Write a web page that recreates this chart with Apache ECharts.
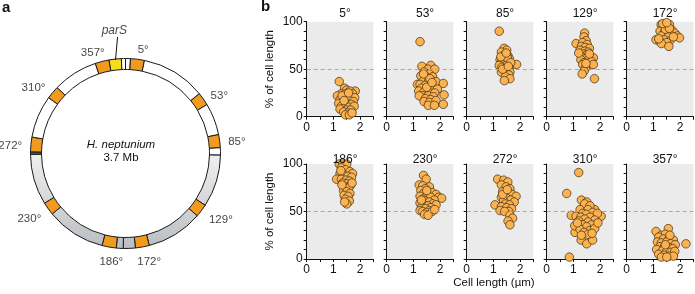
<!DOCTYPE html>
<html><head><meta charset="utf-8">
<script src="https://cdn.jsdelivr.net/npm/echarts@6/dist/echarts.min.js"></script>
<style>html,body{margin:0;padding:0;background:#fff}#c{width:695px;height:294px}</style>
</head><body><div id="c"></div>
<script>
// ---------- panel a: genome ring ----------
const ringBreaks = [0, 3, 11.5, 51, 59, 78.5, 86.5, 91, 123, 131, 165.5, 174, 181.4, 185.6, 194.3, 230.5, 238.5, 269.5, 271, 280, 306, 314, 341.5, 350, 357.5, 360];
const ringKinds  = ['white','orange','white','orange','white','orange','white','gray','orange','gray','orange','gray','gray','orange','gray','orange','gray','dark','orange','white','orange','white','orange','yellow','white'];
const ringLabels = ['357°','5°','53°','85°','129°','172°','186°','230°','272°','310°'];
const ringLabelR = [106, 105, 110, 112, 116, 111, 109, 116, 115.5, 113];
const ringLabelA = [342, 9.7, 58.5, 84, 124.7, 167.7, 187.5, 236, 273.7, 305.5];
const parSLine = [[94, 353.9], [116.8, 356.1]];
const parSLabel = [123.5, 354.8];

// ---------- panel b: scatter data [cell length (µm), % of cell length] ----------
const panelTitles = ['5°','53°','85°','129°','172°','186°','230°','272°','310°','357°'];
const p5 = [[1.22,37],[1.42,30],[1.5,28],[1.82,27],[1.62,27],[1.28,24],[1.45,24],[1.72,24],[1.15,22],[1.55,22],[1.35,20],[1.65,20],[1.8,20],[1.25,18],[1.48,18],[1.6,17],[1.75,16],[1.35,15],[1.2,14],[1.5,13],[1.68,13],[1.3,11],[1.42,10],[1.58,10],[1.78,11],[1.25,8],[1.5,7],[1.65,7],[1.38,5],[1.55,4],[1.45,2],[1.6,2],[1.7,4],[1.33,22],[1.57,25],[1.4,17]];
const p53 = [[1.25,79],[1.32,53],[1.65,54],[1.55,50],[1.8,50],[1.4,47],[1.6,45],[1.28,43],[1.48,42],[1.72,42],[1.15,34],[1.35,37],[1.58,38],[1.85,37],[2.12,35],[1.25,34],[1.45,33],[1.65,33],[1.3,30],[1.5,29],[1.7,30],[1.9,29],[1.2,27],[1.4,26],[1.6,25],[1.8,25],[1.35,22],[1.55,22],[1.75,21],[2.15,23],[1.22,22],[1.45,19],[1.65,18],[1.4,16],[1.6,15],[1.85,17],[1.56,12],[1.79,12],[2.12,13],[1.5,31],[1.62,40],[1.38,45],[1.7,36]];
const p85 = [[1.22,90],[1.4,72],[1.5,70],[1.3,68],[1.45,66],[1.55,64],[1.35,62],[1.6,61],[1.25,60],[1.42,60],[1.5,58],[1.3,57],[1.58,56],[1.87,55],[1.38,55],[1.48,54],[1.22,54],[1.6,52],[1.32,52],[1.45,51],[1.55,49],[1.4,48],[1.62,47],[1.3,47],[1.5,45],[1.58,44],[1.45,42],[1.62,40],[1.41,38],[1.35,50],[1.52,62],[1.65,57],[1.28,63],[1.48,67],[1.56,53]];
const p129 = [[1.42,88],[1.4,84],[1.48,80],[1.1,77],[1.35,78],[1.52,76],[1.3,74],[1.45,73],[1.6,72],[1.25,70],[1.42,69],[1.55,68],[1.38,66],[1.5,65],[1.32,63],[1.62,63],[1.45,61],[1.75,62],[1.28,60],[1.52,59],[1.4,57],[1.68,58],[1.35,55],[1.5,53],[1.45,51],[1.75,55],[1.4,48],[1.33,45],[1.79,40],[1.6,66],[1.2,67],[1.47,56]];
const p172 = [[1.29,97],[1.6,97],[1.45,96],[1.35,93],[1.52,92],[1.7,91],[1.25,90],[1.42,89],[1.58,88],[1.8,88],[1.48,86],[1.65,86],[1.9,85],[1.98,83],[1.3,85],[1.55,84],[1.1,81],[1.4,81],[1.62,80],[1.25,79],[1.5,78],[1.3,77],[1.58,74],[1.45,92],[1.6,93],[1.35,98],[1.5,99],[1.75,84],[1.2,82]];
const p186 = [[1.22,100],[1.35,100],[1.5,100],[1.3,96],[1.45,94],[1.62,92],[1.72,90],[1.25,90],[1.4,88],[1.55,87],[1.68,86],[1.12,84],[1.3,84],[1.47,83],[1.6,82],[1.35,80],[1.52,79],[1.65,78],[1.42,76],[1.58,75],[1.38,72],[1.5,71],[1.62,69],[1.4,67],[1.55,66],[1.45,63],[1.6,61],[1.5,58],[1.42,60],[1.32,78],[1.7,80],[1.28,93]];
const p230 = [[1.38,88],[1.48,84],[1.22,78],[1.35,77],[1.6,76],[1.45,74],[1.28,72],[1.55,70],[1.7,70],[1.38,69],[1.85,68],[1.25,66],[1.5,66],[1.65,65],[1.95,65],[2.06,64],[1.35,63],[1.78,62],[1.45,61],[1.6,60],[1.25,59],[1.72,58],[1.4,57],[1.55,56],[1.3,54],[1.85,57],[1.65,54],[1.45,53],[1.25,51],[1.6,51],[1.35,50],[1.5,49],[1.7,50],[1.42,47],[1.55,46],[1.8,52],[1.3,62],[1.5,72]];
const p272 = [[1.16,84],[1.39,83],[1.54,81],[1.3,78],[1.48,76],[1.62,74],[1.35,71],[1.55,70],[1.42,67],[1.7,68],[1.85,66],[1.3,65],[1.5,64],[1.65,62],[1.38,61],[1.78,60],[1.06,57],[1.45,58],[1.6,57],[1.3,55],[1.5,54],[1.68,53],[1.25,51],[1.58,50],[1.42,50],[1.62,46],[1.72,43],[1.55,40],[1.62,36],[1.35,68],[1.52,73]];
const p310 = [[1.2,91],[0.75,69],[0.85,2],[0.92,46],[1.06,28],[1.29,20],[1.5,16],[1.72,20],[2.04,45],[1.8,52],[1.3,62],[1.5,60],[1.42,58],[1.62,56],[1.25,52],[1.55,52],[1.72,49],[1.35,48],[1.48,47],[1.9,48],[1.1,45],[1.28,44],[1.62,44],[1.42,42],[1.8,41],[1.2,40],[1.55,39],[1.35,36],[1.68,36],[1.05,35],[1.5,34],[1.25,31],[1.62,30],[1.4,28],[1.8,32],[1.55,26],[1.7,27],[1.3,25],[1.92,38],[1.15,38]];
const p357 = [[1.56,32],[1.1,29],[2.22,16],[1.3,25],[1.45,26],[1.2,23],[1.38,21],[1.6,22],[1.75,20],[1.15,18],[1.3,17],[1.5,18],[1.65,16],[1.82,15],[1.25,13],[1.42,13],[1.58,12],[1.72,11],[1.12,10],[1.35,9],[1.5,8],[1.65,7],[1.8,8],[1.2,5],[1.4,4],[1.58,3],[1.75,3],[1.3,2],[1.5,2],[1.45,15],[1.62,25]];
const panels = [p5,p53,p85,p129,p172,p186,p230,p272,p310,p357];
const xTicks = [0, 1, 2];
const yTicks = [0, 50, 100];

const FONT = "'Liberation Sans', Arial, Helvetica, sans-serif";
const TXT = '#111';
const chart = echarts.init(document.getElementById('c'), null, {renderer: 'canvas'});

const grayGrad = new echarts.graphic.LinearGradient(0, 148, 0, 250, [
  {offset: 0, color: '#f3f3f4'}, {offset: 1, color: '#b9bcc1'}], true);
grayGrad.global = true;
const kindColor = {white: '#ffffff', orange: '#f29a1e', yellow: '#f4de1e', dark: '#5a5a5a', gray: grayGrad};

const ringData = ringKinds.map((k, i) => ({
  value: ringBreaks[i + 1] - ringBreaks[i],
  itemStyle: {color: kindColor[k]}
}));

const grids = [], xAxes = [], yAxes = [], series = [], titles = [];
panels.forEach((d, i) => {
  const col = i % 5, row = Math.floor(i / 5);
  const left = 306.7 + 80 * col, top = row ? 164 : 21.7, w = 66.7, h = 95;
  grids.push({left, top, width: w, height: h, show: true, backgroundColor: '#ebebeb', borderWidth: 0, outerBoundsMode: 'none'});
  xAxes.push({gridIndex: i, type: 'value', min: 0, max: 2.5, interval: 0.5,
    axisLine: {lineStyle: {color: '#111', width: 1}},
    axisTick: {show: true, length: 3, lineStyle: {color: '#111'}},
    splitLine: {show: false},
    axisLabel: {fontSize: 12, color: TXT, fontFamily: FONT, margin: 5,
      formatter: v => xTicks.includes(v) ? String(v) : ''}
  });
  yAxes.push({gridIndex: i, type: 'value', min: 0, max: 100, interval: 10,
    axisLine: {show: true, lineStyle: {color: '#111', width: 1}},
    axisTick: {show: true, length: 3, lineStyle: {color: '#111'}},
    splitLine: {show: false},
    axisLabel: {show: col === 0, fontSize: 12, color: TXT, fontFamily: FONT, margin: 4,
      formatter: v => yTicks.includes(v) ? String(v) : ''},
    name: col === 0 ? '% of cell length' : '', nameLocation: 'middle', nameGap: 31,
    nameTextStyle: {fontSize: 11.5, color: TXT, fontFamily: FONT}
  });
  titles.push({text: panelTitles[i], left: left + w / 2, top: row ? 149 : 3, textAlign: 'center',
    textStyle: {fontSize: 12, fontWeight: 'normal', color: TXT, fontFamily: FONT}});
  series.push({type: 'scatter', xAxisIndex: i, yAxisIndex: i, data: d, symbolSize: 8.5,
    itemStyle: {color: '#fcb24e', borderColor: '#3a2a14', borderWidth: 0.7, opacity: 1},
    markLine: {silent: true, symbol: 'none', label: {show: false},
      lineStyle: {color: '#a8a8a8', type: [4, 3], width: 1},
      data: [{yAxis: 50}]},
    z: 3
  });
});

series.push({type: 'pie', center: [125.5, 153.5], radius: [84, 95], startAngle: 90, clockwise: true,
  silent: true, label: {show: false}, labelLine: {show: false}, avoidLabelOverlap: false,
  itemStyle: {borderColor: '#1a1a1a', borderWidth: 1}, data: ringData});

series.push({type: 'scatter', coordinateSystem: 'polar', symbolSize: 0, silent: true,
  label: {show: true, position: 'inside', formatter: '{b}', fontSize: 11.5, color: TXT, fontFamily: FONT},
  data: ringLabels.map((t, i) => ({name: t, value: [ringLabelR[i], ringLabelA[i]]}))
    .concat([{name: 'parS', value: parSLabel, label: {fontStyle: 'italic', fontSize: 12}}])
});
series.push({type: 'line', coordinateSystem: 'polar', data: parSLine, symbol: 'none', silent: true,
  lineStyle: {color: '#111', width: 1}});

const option = {
  animation: false,
  backgroundColor: '#fff',
  title: titles,
  grid: grids, xAxis: xAxes, yAxis: yAxes,
  polar: {center: [125.5, 153.5], radius: 130},
  angleAxis: {type: 'value', min: 0, max: 360, startAngle: 90, clockwise: true, show: false},
  radiusAxis: {type: 'value', min: 0, max: 130, show: false},
  series,
  graphic: [
    {type: 'text', left: 2, top: 0, style: {text: 'a', font: 'bold 15px ' + FONT, fill: '#111'}},
    {type: 'text', left: 261, top: -1, style: {text: 'b', font: 'bold 15px ' + FONT, fill: '#111'}},
    {type: 'text', x: 121, y: 145, style: {text: 'H. neptunium', font: 'italic 11.5px ' + FONT, fill: TXT, textAlign: 'center', textVerticalAlign: 'middle'}},
    {type: 'text', x: 121, y: 158, style: {text: '3.7 Mb', font: '11.5px ' + FONT, fill: TXT, textAlign: 'center', textVerticalAlign: 'middle'}},
    {type: 'text', x: 494, y: 283, style: {text: 'Cell length (µm)', font: '11.5px ' + FONT, fill: TXT, textAlign: 'center', textVerticalAlign: 'middle'}}
  ]
};
chart.setOption(option);
</script></body></html>
